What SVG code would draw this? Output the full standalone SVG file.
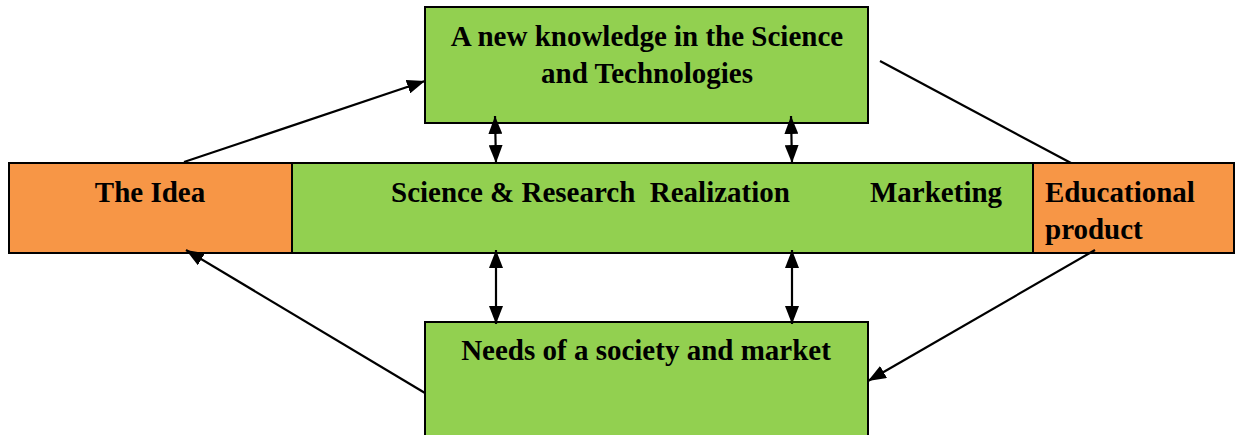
<svg xmlns="http://www.w3.org/2000/svg" width="1236" height="435" viewBox="0 0 1236 435">
<style>
.g{fill:#92D050;stroke:#000;stroke-width:2}
.o{fill:#F79646;stroke:#000;stroke-width:2}
.t{font-family:"Liberation Serif","Times New Roman",serif;font-weight:bold;font-size:29px;fill:#000;white-space:pre}
.c{stroke:#000;stroke-width:2.2;fill:none}
</style>
<defs>
<marker id="ah" viewBox="0 0 18 14" refX="18" refY="7" markerWidth="18" markerHeight="14" markerUnits="userSpaceOnUse" orient="auto-start-reverse">
<path d="M0,0 L18,7 L0,14 Z" fill="#000"/>
</marker>
</defs>
<rect width="1236" height="435" fill="#fff"/>
<g id="idea"><rect class="o" x="9" y="163" width="283" height="90"/><text class="t" x="150" y="202" text-anchor="middle">The Idea</text></g>
<g id="process"><rect class="g" x="292" y="163" width="741" height="90"/><text class="t" x="391" y="202">Science &amp; Research  Realization</text><text class="t" x="870" y="202">Marketing</text></g>
<g id="product"><rect class="o" x="1033" y="163" width="201" height="90"/><text class="t" x="1045" y="202">Educational</text><text class="t" x="1045" y="239">product</text></g>
<g id="knowledge"><rect class="g" x="425" y="7" width="443" height="116"/><text class="t" x="647" y="46" text-anchor="middle">A new knowledge in the Science</text><text class="t" x="647" y="83" text-anchor="middle">and Technologies</text></g>
<g id="needs"><rect class="g" x="425" y="322" width="443" height="116"/><text class="t" x="646" y="360" text-anchor="middle">Needs of a society and market</text></g>
<g id="connectors">
<line class="c" x1="184" y1="162" x2="425" y2="81" marker-end="url(#ah)"/>
<line class="c" x1="880" y1="61" x2="1071" y2="163"/>
<line class="c" x1="1095" y1="250" x2="868" y2="381" marker-end="url(#ah)"/>
<line class="c" x1="425" y1="393" x2="186" y2="250" marker-end="url(#ah)"/>
<line class="c" x1="495" y1="116" x2="496" y2="163" marker-start="url(#ah)" marker-end="url(#ah)"/>
<line class="c" x1="791" y1="116" x2="792" y2="163" marker-start="url(#ah)" marker-end="url(#ah)"/>
<line class="c" x1="496" y1="250" x2="496" y2="324" marker-start="url(#ah)" marker-end="url(#ah)"/>
<line class="c" x1="792" y1="250" x2="792" y2="324" marker-start="url(#ah)" marker-end="url(#ah)"/>
</g>
</svg>
